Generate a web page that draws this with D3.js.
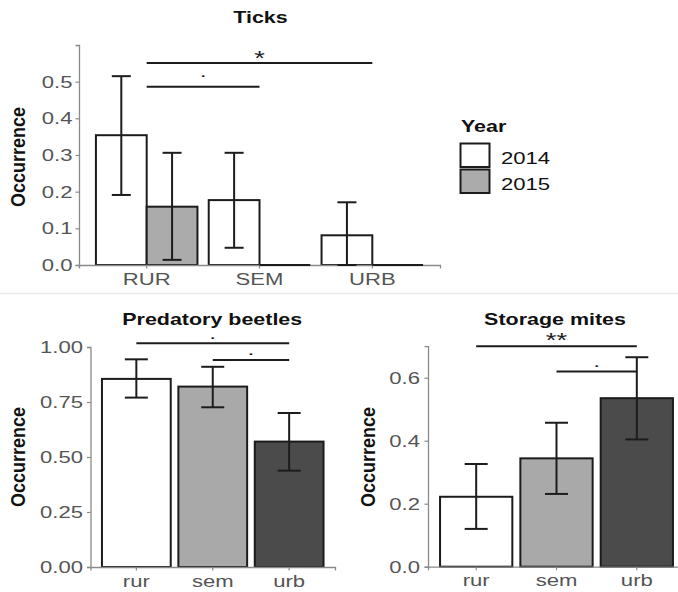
<!DOCTYPE html>
<html><head><meta charset="utf-8">
<script src="https://cdn.jsdelivr.net/npm/d3@7"></script>
<style>
body{margin:0;background:#fff}
svg{display:block}
text{font-family:"Liberation Sans",Arial,sans-serif}
</style>
</head><body>
<svg id="c" width="678" height="592"></svg>
<script>
// ---------- data ----------
const tickSites = ["RUR", "SEM", "URB"];
const tickYears = ["2014", "2015"];
const ticksMean2014 = [0.354, 0.177, 0.081];
const ticksLow2014  = [0.191, 0.047, 0.0];
const ticksHigh2014 = [0.515, 0.306, 0.171];
const ticksMean2015 = [0.159, 0, 0];
const ticksLow2015  = [0.014, null, null];
const ticksHigh2015 = [0.306, null, null];
const ticksYTicks = [0, 0.1, 0.2, 0.3, 0.4, 0.5];
const ticksSig = [
  {from: "RUR", to: "URB", y: 0.551, label: "*"},
  {from: "RUR", to: "SEM", y: 0.486, label: "."}
];

const siteLabels = ["rur", "sem", "urb"];
const beetlesMean = [0.855, 0.82, 0.57];
const beetlesLow  = [0.77, 0.726, 0.438];
const beetlesHigh = [0.944, 0.91, 0.70];
const beetlesYTicks = [0, 0.25, 0.5, 0.75, 1.0];
const beetlesSig = [
  {from: "rur", to: "urb", y: 1.017, label: "."},
  {from: "sem", to: "urb", y: 0.941, label: "."}
];

const mitesMean = [0.222, 0.344, 0.535];
const mitesLow  = [0.12, 0.231, 0.404];
const mitesHigh = [0.326, 0.457, 0.665];
const mitesYTicks = [0, 0.2, 0.4, 0.6];
const mitesSig = [
  {from: "rur", to: "urb", y: 0.70, label: "**"},
  {from: "sem", to: "urb", y: 0.62, label: "."}
];

// ---------- styling ----------
const SX = 1.3;              // horizontal text stretch seen in reference
const yearFill = {"2014": "#ffffff", "2015": "#ababab"};
const siteFill = ["#ffffff", "#a9a9a9", "#4b4b4b"];
const axisCol = "#8a8a8a";
const labCol = "#555555";
const ink = "#1c1c1c";

const svg = d3.select("#c");

function stretch(sel, s) {
  sel.each(function () {
    const t = d3.select(this);
    const x = +(t.attr("x") || 0);
    t.attr("x", x / s).attr("transform", `scale(${s},1)`);
  });
}

// faint separator
svg.append("line").attr("x1", 0).attr("x2", 678).attr("y1", 293.5).attr("y2", 293.5)
  .attr("stroke", "#ececec").attr("stroke-width", 1.5);

function drawPanel(o) {
  const g = svg.append("g");
  const x = d3.scaleBand().domain(o.cats).range(o.xr).paddingInner(0.1).paddingOuter(0.15);
  const y = d3.scaleLinear().domain(o.yd).range(o.yr);

  // bars
  const recs = o.records(x);
  g.selectAll("rect.bar").data(recs).enter().append("rect")
    .attr("x", d => d.x0).attr("width", d => d.w)
    .attr("y", d => y(d.mean)).attr("height", d => y(0) - y(d.mean))
    .attr("fill", d => d.fill).attr("stroke", ink).attr("stroke-width", 2);

  // axes
  const ya = g.append("g").attr("transform", `translate(${o.xr[0]},0)`)
    .call(d3.axisLeft(y).tickValues(o.yticks).tickFormat(d3.format(o.fmt))
      .tickSizeOuter(0).tickSize(3.5).tickPadding(o.tickPad));
  const xa = g.append("g").attr("transform", `translate(0,${o.yr[0]})`)
    .call(d3.axisBottom(x).tickSizeOuter(0).tickSize(3.5).tickPadding(4));
  [ya, xa].forEach(a => {
    a.select(".domain").attr("stroke", axisCol).attr("stroke-width", 1.3);
    a.selectAll(".tick line").attr("stroke", axisCol).attr("stroke-width", 1.2);
    a.selectAll("text").attr("fill", labCol).style("font-size", "17px");
    stretch(a.selectAll("text"), SX);
  });
  ya.raise();
  // zero-height bars drawn as outlines over the axis
  g.selectAll("line.zero").data(recs.filter(d => d.mean === 0)).enter().append("line")
    .attr("x1", d => d.x0).attr("x2", d => d.x0 + d.w)
    .attr("y1", y(0)).attr("y2", y(0)).attr("stroke", ink).attr("stroke-width", 2);

  // error bars
  const eb = recs.filter(d => d.lo !== null && d.hi !== null);
  const cw = o.cap / 2;
  const eg = g.selectAll("g.err").data(eb).enter().append("g")
    .attr("stroke", ink).attr("stroke-width", 2);
  eg.append("line").attr("x1", d => d.cx).attr("x2", d => d.cx)
    .attr("y1", d => y(d.hi)).attr("y2", d => y(d.lo));
  eg.append("line").attr("x1", d => d.cx - cw).attr("x2", d => d.cx + cw)
    .attr("y1", d => y(d.hi)).attr("y2", d => y(d.hi));
  eg.append("line").attr("x1", d => d.cx - cw).attr("x2", d => d.cx + cw)
    .attr("y1", d => y(d.lo)).attr("y2", d => y(d.lo));

  // significance
  const c = k => x(k) + x.bandwidth() / 2;
  o.sig.forEach(s => {
    g.append("line").attr("x1", c(s.from)).attr("x2", c(s.to))
      .attr("y1", y(s.y)).attr("y2", y(s.y)).attr("stroke", ink).attr("stroke-width", 2);
    const isDot = s.label === ".";
    const off = isDot ? o.dotOff : o.starOff;
    const t = g.append("text").attr("x", (c(s.from) + c(s.to)) / 2).attr("y", y(s.y) + off)
      .attr("text-anchor", "middle").attr("fill", ink)
      .attr("font-weight", isDot ? "bold" : "normal")
      .style("font-size", isDot ? "11px" : "21px").text(s.label);
    stretch(t, isDot ? 1.6 : SX);
  });

  // title
  const tt = g.append("text").attr("x", (o.xr[0] + o.xr[1]) / 2 + o.titleDx).attr("y", o.titleY)
    .attr("text-anchor", "middle").attr("font-weight", "bold").style("font-size", "16.5px")
    .attr("fill", "#111").text(o.title);
  stretch(tt, SX);

  // y label
  g.append("g").attr("transform", `translate(${o.ylabX},${o.ylabY}) scale(1.12,1) rotate(-90)`)
    .append("text").attr("text-anchor", "middle").attr("dy", "0.36em")
    .attr("font-weight", "bold").style("font-size", "18px").attr("fill", "#111").text("Occurrence");
}

// Ticks panel (dodged by year)
drawPanel({
  cats: tickSites, xr: [79, 440], yr: [265, 45], yd: [0, 0.6],
  yticks: ticksYTicks, fmt: ".1f", tickPad: 3, cap: 19,
  sig: ticksSig, dotOff: -9.5, starOff: 2,
  title: "Ticks", titleY: 23, titleDx: 1, ylabX: 18, ylabY: 157,
  records: x => {
    const inner = d3.scaleBand().domain(tickYears).range([0, x.bandwidth()]);
    const out = [];
    tickSites.forEach((s, i) => {
      [[ticksMean2014, ticksLow2014, ticksHigh2014], [ticksMean2015, ticksLow2015, ticksHigh2015]]
        .forEach((arr, j) => {
          const yr = tickYears[j];
          const x0 = x(s) + inner(yr);
          out.push({x0, w: inner.bandwidth(), cx: x0 + inner.bandwidth() / 2,
            mean: arr[0][i], lo: arr[1][i], hi: arr[2][i], fill: yearFill[yr]});
        });
    });
    return out;
  }
});

function simpleRecords(cats, mean, lo, hi) {
  return x => cats.map((s, i) => ({x0: x(s), w: x.bandwidth(), cx: x(s) + x.bandwidth() / 2,
    mean: mean[i], lo: lo[i], hi: hi[i], fill: siteFill[i]}));
}

drawPanel({
  cats: siteLabels, xr: [90.5, 335], yr: [567, 347], yd: [0, 1.0],
  yticks: beetlesYTicks, fmt: ".2f", tickPad: 4, cap: 23,
  sig: beetlesSig, dotOff: -4.5, starOff: 0,
  title: "Predatory beetles", titleY: 325, titleDx: -0.5, ylabX: 18, ylabY: 457,
  records: simpleRecords(siteLabels, beetlesMean, beetlesLow, beetlesHigh)
});

drawPanel({
  cats: siteLabels, xr: [428, 685], yr: [566.7, 346.2], yd: [0, 0.7],
  yticks: mitesYTicks, fmt: ".1f", tickPad: 4.5, cap: 23,
  sig: mitesSig, dotOff: -4.5, starOff: 1,
  title: "Storage mites", titleY: 325, titleDx: -1.5, ylabX: 368, ylabY: 457,
  records: simpleRecords(siteLabels, mitesMean, mitesLow, mitesHigh)
});

// legend
const lg = svg.append("g");
const lt = lg.append("text").attr("x", 461).attr("y", 132).attr("font-weight", "bold")
  .style("font-size", "16.5px").attr("fill", "#111").text("Year");
stretch(lt, SX);
tickYears.forEach((yr, i) => {
  const top = 143.5 + i * 26;
  lg.append("rect").attr("x", 460.5).attr("y", top).attr("width", 29).attr("height", 23.5)
    .attr("fill", yearFill[yr]).attr("stroke", ink).attr("stroke-width", 2);
  const t = lg.append("text").attr("x", 501).attr("y", top + 20.5)
    .style("font-size", "17px").attr("fill", "#111").text(yr);
  stretch(t, SX);
});
</script>
</body></html>
